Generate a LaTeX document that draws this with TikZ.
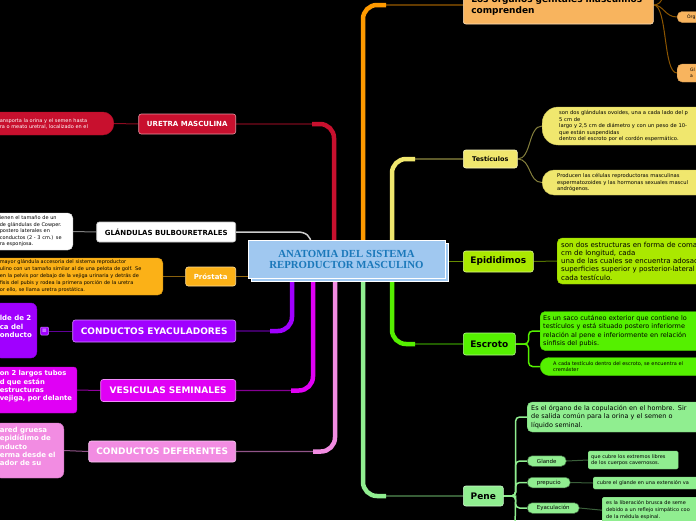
\documentclass[tikz,border=0pt]{standalone}
\usepackage{fontspec}
\setmainfont{DejaVu Sans}
\newfontfamily\ctrfont{Liberation Serif}
\usetikzlibrary{positioning,shadows,backgrounds}

\definecolor{cRed}{HTML}{C8102E}
\definecolor{cAmber}{HTML}{FBB117}
\definecolor{cPurple}{HTML}{A000FF}
\definecolor{cMagenta}{HTML}{E000F5}
\definecolor{cPink}{HTML}{F28CE2}
\definecolor{cOrange}{HTML}{FF9A00}
\definecolor{cPeach}{HTML}{F8B45E}
\definecolor{cYellow}{HTML}{F0E76E}
\definecolor{cLime}{HTML}{AAE800}
\definecolor{cGreen}{HTML}{55F000}
\definecolor{cMint}{HTML}{90EE90}
\definecolor{cSky}{HTML}{A0C8F0}
\definecolor{cInk}{HTML}{1A78BA}

\tikzset{
  topic/.style={fill=#1, draw=white!55!#1, line width=0.6pt, rounded corners=2.5pt, inner sep=0pt},
  note/.style={fill=#1, draw=#1!85!black, line width=0.4pt, rounded corners=5pt, inner ysep=0pt, align=left},
  pill/.style={fill=cMint, draw=cMint!45!black, line width=0.5pt, rounded corners=5pt, minimum height=10.5pt, inner sep=0pt, font=\fontsize{5.5}{6}\selectfont},
  trunk/.style={draw=#1, line width=4.5pt, rounded corners=14pt},
  tail/.style={draw=#1!60!black, line width=1.2pt, rounded corners=14pt},
  twig/.style={draw=#1, line width=1pt},
  fA/.style={font=\fontsize{7}{8.5}\selectfont\bfseries},
  fB/.style={font=\fontsize{9}{11}\selectfont\bfseries},
}

\begin{document}
\begin{tikzpicture}[x=1pt,y=-1pt]
\useasboundingbox (0,0) rectangle (696,520);

% centre
\node[draw=white, line width=1pt, fill=cSky, text=cInk, minimum width=197pt, minimum height=38pt, align=center, font=\ctrfont\bfseries\fontsize{10.8}{11.5}\selectfont, copy shadow={shadow xshift=3pt, shadow yshift=-3pt, draw=white, fill=cSky}] (ctr) at (346.5,259.5) {ANATOMIA DEL SISTEMA\\REPRODUCTOR MASCULINO};

% left branches
\node[topic=cRed, fA, text=white, minimum width=97pt, minimum height=20pt, anchor=east] (uretra) at (236,124) {URETRA MASCULINA};
\node[topic=white, draw=gray!50, fA, text=black, minimum width=139pt, minimum height=20pt, anchor=east] (bulbo) at (236,232) {GLÁNDULAS BULBOURETRALES};
\node[topic=cAmber, fA, text=white, minimum width=50pt, minimum height=19pt, anchor=east] (prostata) at (236,276.5) {Próstata};
\node[topic=cPurple, fB, text=white, minimum width=163pt, minimum height=22pt, anchor=east] (eyac) at (236,331) {CONDUCTOS EYACULADORES};
\node[topic=cMagenta, fB, text=white, minimum width=135pt, minimum height=22pt, anchor=east] (vesic) at (236,390.5) {VESICULAS SEMINALES};
\node[topic=cPink, fB, text=white, minimum width=147pt, minimum height=21pt, anchor=east] (defer) at (236,451.5) {CONDUCTOS DEFERENTES};

% left notes, cut by the page edge
\node[note=cRed, text=white, font=\fontsize{5}{6}\selectfont, text width=103pt, inner xsep=11pt, rounded corners=11pt, minimum height=23pt, anchor=east] (uretraN) at (114,123.5) {ansporta la orina y el semen hasta\\ra o meato uretral, localizado en el};
\node[note=white, font=\fontsize{5}{6.5}\selectfont, text width=68pt, inner xsep=5pt, minimum height=37pt, anchor=east] (bulboN) at (73,231.5) {ienen el tamaño de un\\de glándulas de Cowper.\\postero laterales en\\conductos (2 - 3 cm.) se\\ra esponjosa.};
\node[note=cAmber, font=\fontsize{5}{7}\selectfont, text width=158pt, inner xsep=5pt, minimum height=37pt, anchor=east] (prostataN) at (163,276.5) {mayor glándula accesoria del sistema reproductor\\ulino con un tamaño similar al de una pelota de golf. Se\\en la pelvis por debajo de la vejiga urinaria y detrás de\\fisis del pubis y rodea la primera porción de la uretra\\or ello, se llama uretra prostática.};
\node[note=cPurple, text=white, font=\fontsize{7}{8.3}\selectfont\bfseries, text width=32pt, inner xsep=5pt, rounded corners=6pt, minimum height=55pt, anchor=east] (eyacN) at (37,330.5) {lde de 2\\ca del\\onducto\\~};
\node[note=cMagenta, text=white, font=\fontsize{6.8}{8.3}\selectfont\bfseries, text width=74pt, inner xsep=3pt, rounded corners=3pt, minimum height=46pt, anchor=east] (vesicN) at (77,390) {on 2 largos tubos\\d que están\\estructuras\\vejiga, por delante\\~};
\node[note=cPink, text=white, font=\fontsize{7}{8.3}\selectfont\bfseries, text width=59pt, inner xsep=5pt, rounded corners=6pt, minimum height=55pt, anchor=east] (deferN) at (64,450.5) {ared gruesa\\epidídimo de\\nducto\\erma desde el\\ador de su\\~};
\node[fill=cPurple, draw=white!50!cPurple, line width=0.5pt, rounded corners=1pt, minimum size=8pt, inner sep=0pt, text=white, font=\fontsize{6}{6}\selectfont] (eyacIcon) at (44.5,331) {≡};

% right branches
\node[topic=cPeach, fB, text=black, text width=174pt, align=left, inner xsep=8pt, minimum height=38pt, anchor=west] (organos) at (463,5) {Los órganos genitales masculinos\\comprenden};
\node[note=cPeach, font=\fontsize{4.5}{5.5}\selectfont, text width=40pt, inner xsep=10pt, minimum height=11pt, anchor=west] (orgA) at (677,17) {Órg};
\node[note=cPeach, font=\fontsize{4.5}{6}\selectfont, text width=40pt, inner xsep=13pt, minimum height=18pt, anchor=west] (orgB) at (677,73) {Gl\\a};

\node[topic=cYellow, font=\fontsize{6.5}{8}\selectfont\bfseries, text=black, minimum width=54pt, minimum height=18pt, anchor=west] (testic) at (463,159) {Testículos};
\node[note=cYellow, font=\fontsize{5.2}{6.5}\selectfont, text width=200pt, inner xsep=17pt, rounded corners=16pt, minimum height=38pt, anchor=west] (testicA) at (542,126) {son dos glándulas ovoides, una a cada lado del p\\5 cm de\\largo y 2,5 cm de diámetro y con un peso de 10-\\que están suspendidas\\dentro del escroto por el cordón espermático.};
\node[note=cYellow, font=\fontsize{5.2}{6.5}\selectfont, text width=200pt, inner xsep=15pt, rounded corners=12pt, minimum height=25pt, anchor=west] (testicB) at (542,182.5) {Producen las células reproductoras masculinas\\espermatozoides y las hormonas sexuales mascul\\andrógenos.};

\node[topic=cLime, fB, text=black, minimum width=70pt, minimum height=21pt, anchor=west] (epid) at (463,261.5) {Epididimos};
\node[note=cLime, font=\fontsize{7}{8.3}\selectfont, text width=200pt, inner xsep=4pt, minimum height=46pt, anchor=west] (epidA) at (557,261) {son dos estructuras en forma de coma\\cm de longitud, cada\\una de las cuales se encuentra adosad\\superficies superior y posterior-lateral\\cada testículo.};

\node[topic=cGreen, fB, text=black, minimum width=52pt, minimum height=22pt, anchor=west] (escroto) at (463,344) {Escroto};
\node[note=cGreen, font=\fontsize{6.5}{8.3}\selectfont, text width=200pt, inner xsep=3pt, minimum height=39pt, anchor=west] (escrotoA) at (540,331) {Es un saco cutáneo exterior que contiene lo\\testículos y está situado postero inferiorme\\relación al pene e inferiormente en relación\\sínfisis del pubis.};
\node[note=cGreen, font=\fontsize{5}{6}\selectfont, text width=200pt, inner xsep=13pt, rounded corners=9pt, minimum height=18pt, anchor=west] (escrotoB) at (540,366.5) {A cada testículo dentro del escroto, se encuentra el\\cremáster};

\node[topic=cMint, fB, text=black, minimum width=40pt, minimum height=20pt, anchor=west] (pene) at (463,496) {Pene};
\node[note=cMint, font=\fontsize{6.5}{8.3}\selectfont, text width=200pt, inner xsep=4pt, minimum height=30pt, anchor=west] (peneA) at (527,417) {Es el órgano de la copulación en el hombre. Sir\\de salida común para la orina y el semen o\\líquido seminal.};
\node[pill, minimum width=39pt, anchor=west] (glande) at (527,461) {Glande};
\node[pill, minimum width=43pt, anchor=west] (prepucio) at (527,482.5) {prepucio};
\node[pill, minimum width=52pt, anchor=west] (eyacul) at (527,508) {Eyaculación};
\node[note=cMint, rounded corners=1.5pt, font=\fontsize{5}{6.3}\selectfont, text width=84pt, inner xsep=3pt, minimum height=18pt, anchor=west] (glandeA) at (588,460) {que cubre los extremos libres\\de los cuerpos cavernosos.};
\node[note=cMint, rounded corners=1.5pt, font=\fontsize{5}{6}\selectfont, text width=200pt, inner xsep=4pt, minimum height=12pt, anchor=west] (prepucioA) at (593,483) {cubre el glande en una extensión va};
\node[note=cMint, rounded corners=1.5pt, font=\fontsize{5}{6.7}\selectfont, text width=200pt, inner xsep=4pt, minimum height=26pt, anchor=north west] (eyaculA) at (602,497) {es la liberación brusca de seme\\debido a un reflejo simpático coo\\de la médula espinal.};

\coordinate (orgUp) at (664,-12);
\coordinate (peneDown) at (515,530);

\begin{scope}[on background layer]
\fill[black] (0,0) rectangle (696,520);
% main branches
\draw[tail=cRed] ([xshift=-12.5pt]ctr.north) |- (uretra.east);
\draw[trunk=cRed] ([xshift=-12.5pt]ctr.north) |- (312,124);
\draw[draw=white!80!black, line width=1.5pt] (bulbo.east) -- (297,232) .. controls (306,232) and (311,236) .. ([xshift=-35.5pt,yshift=-4pt]ctr.north);
\draw[tail=cAmber] (prostata.east) -- (prostata.east -| ctr.west);
\draw[tail=cPurple] ([xshift=-54.5pt]ctr.south) |- (eyac.east);
\draw[trunk=cPurple] ([xshift=-54.5pt]ctr.south) |- (270,331);
\draw[tail=cMagenta] ([xshift=-33.5pt]ctr.south) |- (vesic.east);
\draw[trunk=cMagenta] ([xshift=-33.5pt]ctr.south) |- (291,390.5);
\draw[tail=cPink] ([xshift=-11.5pt]ctr.south) |- (defer.east);
\draw[trunk=cPink] ([xshift=-11.5pt]ctr.south) |- (313,451.5);
\draw[tail=cOrange] ([xshift=16.5pt]ctr.north) |- (organos.west);
\draw[trunk=cOrange] ([xshift=16.5pt]ctr.north) |- (386,5);
\draw[tail=cYellow] ([xshift=45.5pt]ctr.north) |- (testic.west);
\draw[trunk=cYellow] ([xshift=45.5pt]ctr.north) |- (415,159);
\draw[tail=cLime] (ctr.east |- epid.west) -- (epid.west);
\draw[tail=cGreen] ([xshift=45.5pt]ctr.south) |- (escroto.west);
\draw[trunk=cGreen] ([xshift=45.5pt]ctr.south) |- (415,344);
\draw[tail=cMint] ([xshift=16.5pt]ctr.south) |- (pene.west);
\draw[trunk=cMint] ([xshift=16.5pt]ctr.south) |- (386,496);
% sub branches
\draw[twig=cRed!70!black] (uretra.west) -- (uretraN.east);
\draw[twig=gray] (bulbo.west) -- (bulboN.east);
\draw[twig=cAmber!55!black] (prostata.west) -- (prostataN.east);
\draw[twig=cPurple!60!black] (eyac.west) -- (eyacIcon.east);
\draw[twig=cMagenta!65!black] (vesic.west) -- (vesicN.east);
\draw[twig=cPink!60!black] (defer.west) -- (deferN.east);
\draw[twig=cOrange!55!black] (organos.east) .. controls +(10,0) and +(-12,0) .. (orgA.west);
\draw[twig=cOrange!55!black] (organos.east) .. controls +(14,0) and +(-14,0) .. (orgB.west);
\draw[twig=cOrange!55!black] (organos.east) .. controls +(8,0) and +(0,8) .. (orgUp);
\draw[twig=cYellow!55!black] (testic.east) .. controls +(14,0) and +(-14,0) .. (testicA.west);
\draw[twig=cYellow!55!black] (testic.east) .. controls +(14,0) and +(-14,0) .. (testicB.west);
\draw[twig=cLime!50!black] (epid.east) -- (epidA.west);
\draw[twig=cGreen, line width=1.5pt, rounded corners=4pt] (escroto.east) -- ++(13,0) |- (escrotoA.west);
\draw[twig=cGreen, line width=1.5pt, rounded corners=4pt] (escroto.east) -- ++(13,0) |- (escrotoB.west);
\draw[twig=cMint, line width=1.5pt, rounded corners=4pt] (pene.east) -- ++(12,0) |- (peneA.west);
\draw[twig=cMint, line width=1.5pt, rounded corners=4pt] (pene.east) -- ++(12,0) |- (glande.west);
\draw[twig=cMint, line width=1.5pt, rounded corners=4pt] (pene.east) -- ++(12,0) |- (prepucio.west);
\draw[twig=cMint, line width=1.5pt, rounded corners=4pt] (pene.east) -- ++(12,0) |- (eyacul.west);
\draw[twig=cMint, line width=1.5pt] (pene.east) -- ++(12,0) -- (peneDown);
\draw[twig=cMint!40!black] (glande.east) -- (glandeA.west);
\draw[twig=cMint!40!black] (prepucio.east) -- (prepucioA.west);
\draw[twig=cMint!40!black] (eyacul.east) -- (eyaculA.west);
\end{scope}
\end{tikzpicture}
\end{document}
